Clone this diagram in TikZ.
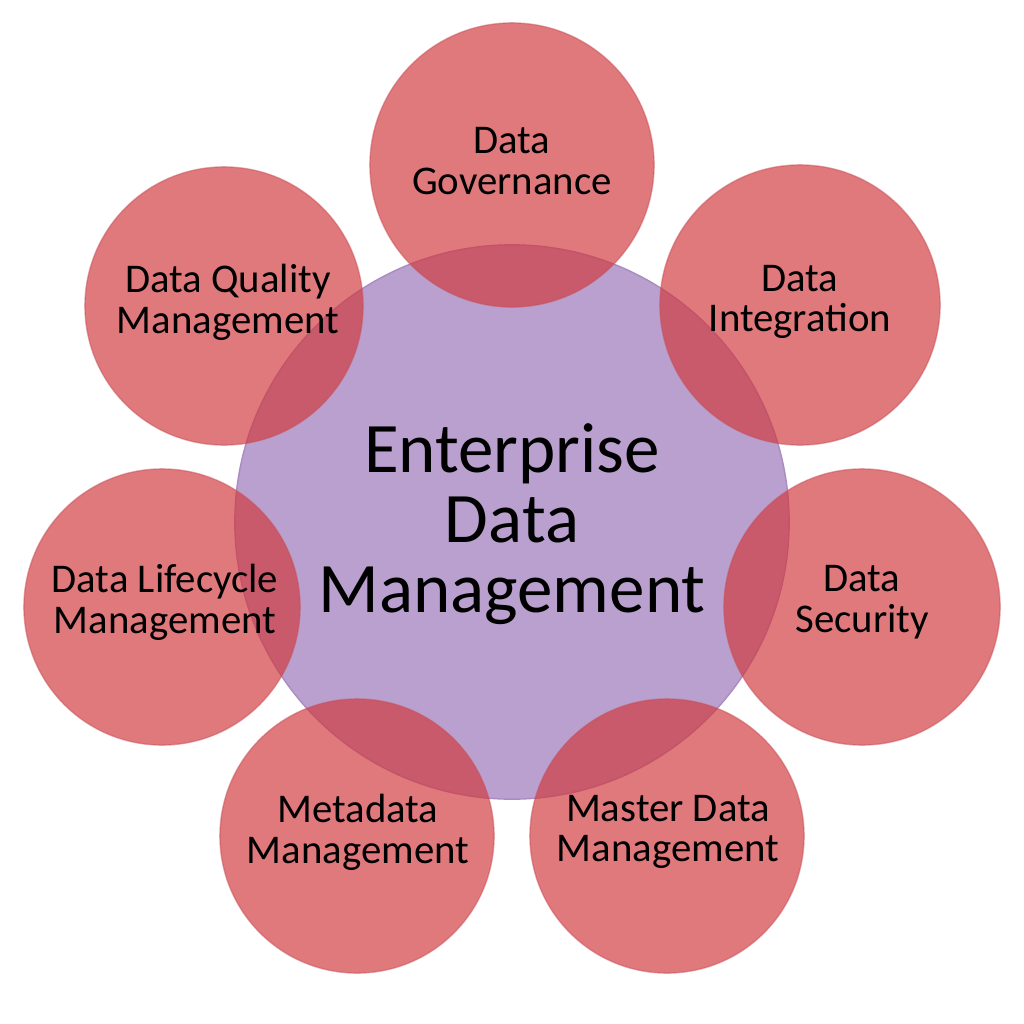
\documentclass[tikz,border=0pt]{standalone}
\usepackage{fontspec}
\setmainfont{Carlito}
\definecolor{hubfill}{RGB}{185,160,206}
\definecolor{hubline}{RGB}{170,140,195}
\definecolor{petalfill}{RGB}{209,56,60}
\definecolor{petalline}{RGB}{200,80,90}
\begin{document}
\begin{tikzpicture}[x=0.01cm,y=-0.01cm,
  hub/.style={circle, fill=hubfill, draw=hubline, line width=0.4pt, inner sep=0pt},
  petal/.style={circle, fill=petalfill, fill opacity=0.67, text opacity=1, draw=petalline, draw opacity=0.5, line width=0.4pt, inner sep=0pt},
  small/.style={font=\fontsize{11.6}{11.6}\selectfont, align=center, text=black},
  big/.style={font=\fontsize{20.2}{20}\selectfont, align=center, text=black}]
\useasboundingbox (0,0) rectangle (1024,1024);
\fill[white] (0,0) rectangle (1024,1024);
\node[hub, minimum size=5.54cm] (hub) at (512,522) {};
\node[petal, minimum size=2.84cm] (gov) at (512,165) {};
\node[petal, minimum size=2.80cm] (int) at (800,305) {};
\node[petal, minimum size=2.76cm] (sec) at (862,607) {};
\node[petal, minimum size=2.74cm] (mdm) at (667,836) {};
\node[petal, minimum size=2.74cm] (meta) at (357,836) {};
\node[petal, minimum size=2.76cm] (life) at (162,607) {};
\node[petal, minimum size=2.78cm] (qual) at (224,306) {};
\node[big] (hubtext) at (512,524) {Enterprise\\Data\\Management};
\node[small] (govtext) at (512,161) {Data\\Governance};
\node[small] (inttext) at (800,302) {Data\\Integration};
\node[small] (sectext) at (862,602) {Data\\Security};
\node[small] (mdmtext) at (668,832) {Master Data\\Management};
\node[small] (metatext) at (358,832) {Metadata\\Management};
\node[small] (lifetext) at (165,602) {Data Lifecycle\\Management};
\node[small] (qualtext) at (228,302) {Data Quality\\Management};
\end{tikzpicture}
\end{document}
